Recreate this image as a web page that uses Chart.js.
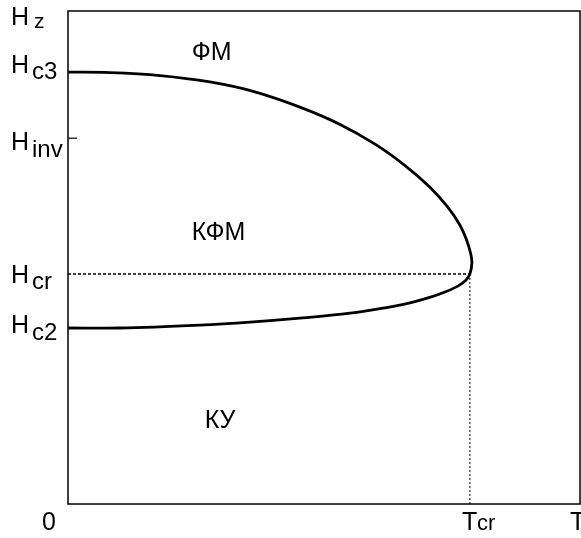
<!DOCTYPE html>
<html>
<head>
<meta charset="utf-8">
<script src="https://cdn.jsdelivr.net/npm/chart.js@4"></script>
<style>
  html, body { margin: 0; padding: 0; background: #fff; }
</style>
</head>
<body>
<canvas id="phaseChart" width="581" height="538"></canvas>
<script>
// --- DATA ---
// T in units of Tcr, Hz in arbitrary units (axis 0..10)
const T_MAX = 1.274;
const H_MAX = 10;
const T_CR = 1;
const H_C3 = 8.76;
const H_INV = 7.42;
const H_CR = 4.665;
const H_C2 = 3.57;

// phase boundary, from Hc3 (T=0) round the nose at Tcr back to Hc2 (T=0)
const curveT = [0, 0.105, 0.229, 0.353, 0.465, 0.577, 0.677, 0.764, 0.838, 0.900, 0.945, 0.975, 0.992, 1.002, 1.005,
                1.0, 0.990, 0.970, 0.938, 0.900, 0.851, 0.789, 0.702, 0.577, 0.453, 0.328, 0.129, 0];
const curveH = [8.76, 8.75, 8.69, 8.56, 8.36, 8.05, 7.70, 7.30, 6.87, 6.43, 6.02, 5.66, 5.35, 5.08, 4.89,
                4.665, 4.54, 4.42, 4.30, 4.19, 4.08, 3.98, 3.87, 3.77, 3.69, 3.63, 3.57, 3.57];

// axis labels: main letter + subscript
const yLabels = [
  { value: H_MAX, main: 'H', sub: 'z' },
  { value: H_C3, main: 'H', sub: 'c3' },
  { value: H_INV, main: 'H', sub: 'inv' },
  { value: H_CR, main: 'H', sub: 'cr' },
  { value: H_C2, main: 'H', sub: 'c2' }
];
const xLabels = [
  { value: 0, main: '0', sub: '' },
  { value: T_CR, main: 'T', sub: 'cr' },
  { value: T_MAX, main: 'T', sub: '' }
];

// phase regions
const regionNames = ['ФМ', 'КФМ', 'КУ'];
const regionT = [0.308, 0.308, 0.34];
const regionH = [9.0, 5.35, 1.55];

const FONT = '"Liberation Sans", Arial, Helvetica, sans-serif';

// --- DRAWING HELPERS ---
const framePlugin = {
  id: 'frame',
  afterDatasetsDraw(chart) {
    const { ctx, chartArea: a, scales } = chart;
    ctx.save();
    ctx.strokeStyle = '#000';
    ctx.lineWidth = 1.5;
    ctx.strokeRect(a.left, a.top, a.right - a.left, a.bottom - a.top);
    // small tick at Hinv
    const yi = scales.y.getPixelForValue(H_INV);
    ctx.lineWidth = 1.2;
    ctx.beginPath();
    ctx.moveTo(a.left, yi);
    ctx.lineTo(a.left + 9, yi);
    ctx.stroke();
    ctx.restore();
  },
  afterDraw(chart) {
    const { ctx, scales } = chart;
    const x = scales.x, y = scales.y;
    ctx.save();
    ctx.fillStyle = '#000';
    ctx.textBaseline = 'alphabetic';
    ctx.textAlign = 'left';

    // y labels: per-label baseline offsets from the value pixel
    const yOff = { z: [14, 3], c3: [1, 6], inv: [12, 7], cr: [9, 6], c2: [5, 7] };
    yLabels.forEach(l => {
      const py = l.value === H_MAX ? 11 : y.getPixelForValue(l.value);
      const off = yOff[l.sub];
      ctx.font = '25px ' + FONT;
      ctx.fillText(l.main, 11, py + off[0]);
      ctx.font = (l.sub === 'z' ? '21px ' : '24px ') + FONT;
      ctx.fillText(l.sub, l.sub === 'z' ? 34 : 32, py + off[0] + off[1]);
    });

    // x labels
    const base = 530;
    xLabels.forEach(l => {
      const px = x.getPixelForValue(l.value);
      ctx.font = '25px ' + FONT;
      if (l.main === '0') {
        ctx.fillText('0', px - 26, base);
      } else if (l.sub) {
        ctx.fillText(l.main, px - 8, base);
        ctx.font = '22px ' + FONT;
        ctx.fillText(l.sub, px + 7, base);
      } else {
        ctx.fillText(l.main, px - 10, base);
      }
    });

    // region names
    ctx.font = '25px ' + FONT;
    regionNames.forEach((n, i) => {
      ctx.fillText(n, x.getPixelForValue(regionT[i]), y.getPixelForValue(regionH[i]));
    });
    ctx.restore();
  }
};

// --- CHART ---
const ctx = document.getElementById('phaseChart').getContext('2d');
new Chart(ctx, {
  type: 'scatter',
  data: {
    datasets: [
      {
        label: 'boundary',
        data: curveT.map((t, i) => ({ x: t, y: curveH[i] })),
        showLine: true,
        borderColor: '#000',
        borderWidth: 2.8,
        pointRadius: 0,
        tension: 0.35,
        fill: false
      },
      {
        label: 'Hcr',
        data: [{ x: 0, y: H_CR }, { x: T_CR, y: H_CR }],
        showLine: true,
        borderColor: '#000',
        borderWidth: 1.3,
        borderDash: [3, 2],
        pointRadius: 0
      },
      {
        label: 'Tcr',
        data: [{ x: T_CR, y: H_CR }, { x: T_CR, y: 0 }],
        showLine: true,
        borderColor: '#000',
        borderWidth: 1,
        borderDash: [2, 2],
        pointRadius: 0
      }
    ]
  },
  options: {
    responsive: false,
    animation: false,
    layout: { padding: { top: 11, right: 1, left: 0, bottom: 0 } },
    plugins: { legend: { display: false }, tooltip: { enabled: false } },
    scales: {
      x: {
        type: 'linear', min: 0, max: T_MAX,
        ticks: { display: false }, grid: { display: false }, border: { display: false },
        afterFit: s => { s.height = 34; }
      },
      y: {
        type: 'linear', min: 0, max: H_MAX,
        ticks: { display: false }, grid: { display: false }, border: { display: false },
        afterFit: s => { s.width = 68; }
      }
    }
  },
  plugins: [framePlugin]
});
</script>
</body>
</html>
